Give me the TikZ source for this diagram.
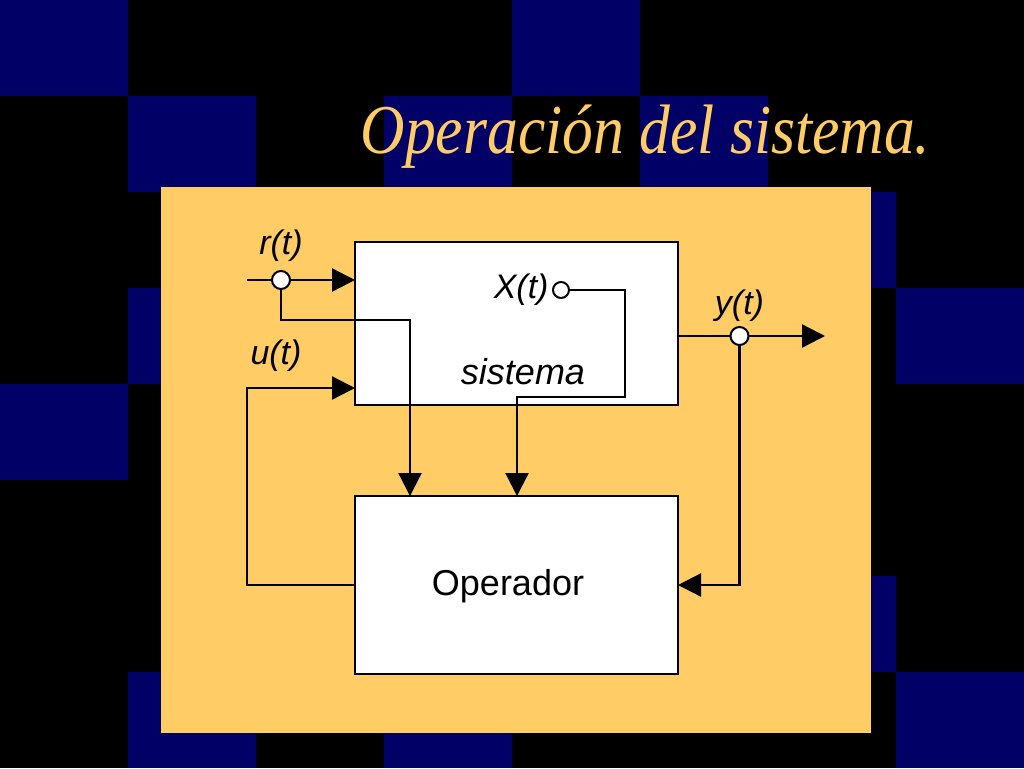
\documentclass[tikz,border=0pt]{standalone}
\usepackage{fontspec}
\setmainfont{Liberation Serif}
\setsansfont{Liberation Sans}
\usepackage{graphicx}
\usetikzlibrary{arrows.meta}
\definecolor{crema}{RGB}{255,204,102}
\definecolor{marino}{RGB}{0,0,102}
\tikzset{%
	flecha/.style={-{Triangle[length=23pt,width=23pt]}},
	bloque/.style={draw,line width=2.6pt,fill=white,minimum width=323pt,inner sep=0pt,outer sep=0pt,name=#1},
	etq/.style={font=\fontsize{34}{40}\selectfont\sffamily\itshape}
}

\begin{document}
\begin{tikzpicture}[x=1pt,y=-1pt,line width=2.3pt,punto/.style={circle,draw,line width=2pt,fill=white,minimum size=18pt,inner sep=0pt,name=#1}]
	\fill[black] (0,0) rectangle (1024,768);
	\foreach \i/\j in {0/0,4/0,1/1,3/1,5/1,6/2,1/3,7/3,0/4,6/6,1/7,3/7,7/7}
		\fill[marino] (128*\i,96*\j) rectangle ++(128,96);
	\node [anchor=base, text=crema, font=\fontsize{70}{80}\selectfont\itshape] (titulo) at (645.5,153) {\scalebox{0.88}[1]{Operación del sistema.}};
	\fill[crema] (161,187) rectangle (871,733);
	\node [bloque=S, minimum height=163pt] at (516.5,323.5) {};
	\node [bloque=O, minimum height=178pt] at (516.5,585) {};
	\node [font=\fontsize{36}{40}\selectfont\sffamily\itshape] (ts) at (523,372) {sistema};
	\node [font=\fontsize{36}{40}\selectfont\sffamily] (to) at (508,586) {Operador};
	\coordinate (rin) at (247,280);
	\coordinate (k1) at (410,320);
	\coordinate (k2) at (625,397);
	\coordinate (k3) at (517,397);
	\coordinate (k4) at (247,388);
	\coordinate (yout) at (825,336);
	\node [etq] (ut) at (276,356) {u(t)};
	\draw (rin) -- (281,280);
	\draw [flecha] (281,280) -- (S.west |- rin);
	\draw [flecha] (281,280) |- (k1) -- (k1 |- O.north);
	\draw [flecha] (561,290) -| (k2) -- (k3) -- (k3 |- O.north);
	\draw [flecha] (O.west) -| (k4) -- (S.west |- k4);
	\draw [flecha] (S.east |- yout) -- (yout);
	\draw [flecha] (739.5,336) |- (O.east);
	\node [punto=rc, label={[etq, label distance=4pt]above:r(t)}] at (281,280) {};
	\node [punto=xc, label={[etq, label distance=-1pt]left:X(t)}, minimum size=16pt] at (561,290) {};
	\node [punto=yc, label={[etq]above:y(t)}] at (739.5,336) {};
\end{tikzpicture}
\end{document}
